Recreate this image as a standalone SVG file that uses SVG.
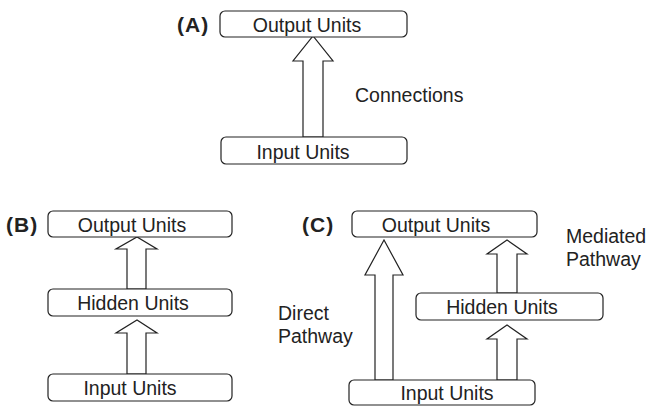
<svg xmlns="http://www.w3.org/2000/svg" width="647" height="406" viewBox="0 0 647 406">
<style>
.box{fill:#fff;stroke:#222;stroke-width:1.2}
.arr{fill:#fff;stroke:#222;stroke-width:1.2;stroke-linejoin:miter}
.t{font-family:"Liberation Sans",Arial,sans-serif;font-size:19.5px;fill:#222;text-anchor:middle}
.l{font-family:"Liberation Sans",Arial,sans-serif;font-size:19.5px;fill:#222}
.p{font-family:"Liberation Sans",Arial,sans-serif;font-size:21px;font-weight:bold;fill:#222;letter-spacing:1px}
</style>
<rect width="647" height="406" fill="#fff"/>
<g id="connectors">
<polygon class="arr" points="303,137 303,61 293,61 313,36 333,61 323,61 323,137"/>
<polygon class="arr" points="127,289 127,249 116,249 137,237 157,249 146,249 146,289"/>
<polygon class="arr" points="127,374 127,333 116,333 137,320 157,333 146,333 146,374"/>
<polygon class="arr" points="375,380 375,275 365,275 384,240 403,275 393,275 393,380"/>
<polygon class="arr" points="497,293 497,254 487,254 507,240 527,254 517,254 517,293"/>
<polygon class="arr" points="497,380 497,339 487,339 507,325 527,339 517,339 517,380"/>
</g>
<g id="labelA"><text class="p" x="177" y="32">(A)</text></g>
<g id="labelB"><text class="p" x="6" y="232">(B)</text></g>
<g id="labelC"><text class="p" x="302" y="232">(C)</text></g>
<g id="A-output"><rect class="box" x="220" y="11" width="187" height="26" rx="5"/><text class="t" x="307" y="32">Output Units</text></g>
<g id="A-input"><rect class="box" x="221" y="137" width="186" height="27" rx="5"/><text class="t" x="303" y="159">Input Units</text></g>
<g id="A-connections-label"><text class="l" x="355" y="102">Connections</text></g>
<g id="B-output"><rect class="box" x="48" y="211" width="184" height="26" rx="5"/><text class="t" x="132" y="232">Output Units</text></g>
<g id="B-hidden"><rect class="box" x="48" y="289" width="184" height="27" rx="5"/><text class="t" x="133" y="310">Hidden Units</text></g>
<g id="B-input"><rect class="box" x="48" y="374" width="184" height="27" rx="5"/><text class="t" x="130" y="395">Input Units</text></g>
<g id="C-output"><rect class="box" x="352" y="211" width="185" height="26" rx="5"/><text class="t" x="436" y="232">Output Units</text></g>
<g id="C-hidden"><rect class="box" x="416" y="293" width="187" height="27" rx="5"/><text class="t" x="502" y="314">Hidden Units</text></g>
<g id="C-input"><rect class="box" x="349" y="380" width="186" height="25" rx="5"/><text class="t" x="447" y="400">Input Units</text></g>
<g id="C-direct-label"><text class="l" x="278" y="320">Direct</text><text class="l" x="278" y="343">Pathway</text></g>
<g id="C-mediated-label"><text class="l" x="566" y="243">Mediated</text><text class="l" x="566" y="266">Pathway</text></g>
</svg>
